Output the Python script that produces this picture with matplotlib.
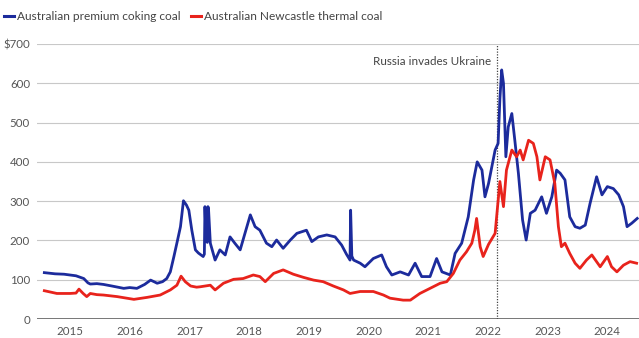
import matplotlib
matplotlib.use("Agg")
import matplotlib.pyplot as plt

# ---- data (decimal years, US$/tonne) ----
coking_years = [2014.57, 2014.75, 2014.9, 2015.0, 2015.1, 2015.23, 2015.3, 2015.34, 2015.45, 2015.56,
                2015.7, 2015.9, 2016.0, 2016.12, 2016.25, 2016.35, 2016.42, 2016.46, 2016.55, 2016.62,
                2016.68, 2016.74, 2016.8, 2016.85, 2016.9, 2016.95, 2016.99, 2017.04, 2017.1, 2017.15,
                2017.23, 2017.25, 2017.26, 2017.28, 2017.3, 2017.31, 2017.32, 2017.35, 2017.43, 2017.51,
                2017.6, 2017.68, 2017.76, 2017.85, 2017.93, 2018.02, 2018.06, 2018.1, 2018.18, 2018.29,
                2018.38, 2018.46, 2018.57, 2018.69, 2018.8, 2018.96, 2019.05, 2019.16, 2019.3, 2019.44,
                2019.55, 2019.63, 2019.69, 2019.70, 2019.72, 2019.75, 2019.86, 2019.94, 2020.08, 2020.22,
                2020.3, 2020.39, 2020.53, 2020.67, 2020.78, 2020.89, 2021.03, 2021.14, 2021.23, 2021.37,
                2021.45, 2021.56, 2021.67, 2021.76, 2021.82, 2021.9, 2021.95, 2022.01, 2022.12, 2022.17,
                2022.2, 2022.23, 2022.26, 2022.3, 2022.34, 2022.4, 2022.45, 2022.51, 2022.58, 2022.64,
                2022.71, 2022.79, 2022.9, 2022.98, 2023.07, 2023.15, 2023.21, 2023.29, 2023.37, 2023.46,
                2023.54, 2023.63, 2023.71, 2023.82, 2023.91, 2024.0, 2024.1, 2024.19, 2024.27, 2024.33,
                2024.41, 2024.5]
coking_values = [118, 115, 114, 112, 110, 103, 92, 89, 90, 88,
                 84, 78, 80, 78, 88, 99, 94, 91, 95, 103,
                 120, 159, 200, 235, 301, 290, 277, 226, 176, 168,
                 159, 165, 286, 200, 195, 286, 280, 193, 150, 176,
                 163, 209, 193, 176, 218, 265, 250, 235, 226, 193,
                 184, 201, 180, 201, 218, 226, 197, 209, 214, 209,
                 188, 165, 150, 277, 160, 150, 142, 133, 154, 163,
                 133, 112, 120, 112, 142, 108, 108, 154, 120, 112,
                 167, 193, 260, 354, 400, 379, 311, 345, 430, 447,
                 560, 634, 600, 413, 489, 523, 455, 371, 252, 201,
                 269, 277, 311, 269, 311, 379, 371, 354, 260, 235,
                 231, 239, 294, 362, 316, 337, 332, 316, 286, 235,
                 244, 256]

thermal_years = [2014.57, 2014.78, 2015.0, 2015.1, 2015.15, 2015.22, 2015.28, 2015.34, 2015.45, 2015.56,
                 2015.79, 2016.07, 2016.29, 2016.51, 2016.68, 2016.79, 2016.86, 2016.93, 2017.02, 2017.12,
                 2017.18, 2017.35, 2017.43, 2017.57, 2017.74, 2017.9, 2018.07, 2018.18, 2018.27, 2018.41,
                 2018.57, 2018.74, 2018.91, 2019.08, 2019.24, 2019.41, 2019.58, 2019.69, 2019.86, 2020.08,
                 2020.25, 2020.36, 2020.58, 2020.7, 2020.86, 2021.03, 2021.2, 2021.31, 2021.42, 2021.53,
                 2021.64, 2021.73, 2021.78, 2021.81, 2021.87, 2021.92, 2022.01, 2022.12, 2022.2, 2022.26,
                 2022.31, 2022.4, 2022.48, 2022.54, 2022.59, 2022.68, 2022.76, 2022.82, 2022.87, 2022.96,
                 2023.04, 2023.12, 2023.18, 2023.23, 2023.29, 2023.37, 2023.46, 2023.54, 2023.65, 2023.74,
                 2023.88, 2024.0, 2024.07, 2024.16, 2024.27, 2024.38, 2024.49]
thermal_values = [72, 65, 65, 66, 76, 65, 57, 65, 62, 61,
                  57, 50, 55, 61, 74, 86, 109, 95, 84, 81,
                  82, 86, 74, 91, 101, 103, 112, 108, 95, 116,
                  125, 114, 106, 99, 95, 84, 74, 65, 70, 70,
                  61, 53, 48, 48, 65, 78, 91, 95, 116, 150,
                  171, 193, 226, 256, 184, 159, 190, 218, 350, 286,
                  379, 430, 413, 430, 405, 455, 447, 413, 354, 413,
                  405, 345, 235, 184, 193, 167, 142, 129, 150, 163,
                  133, 159, 133, 120, 137, 146, 142]

year_ticks = [2015, 2016, 2017, 2018, 2019, 2020, 2021, 2022, 2023, 2024]
y_ticks = [0, 100, 200, 300, 400, 500, 600, 700]
y_labels = ["0", "100", "200", "300", "400", "500", "600", "$700"]
invasion_date = 2022.15
series_names = ["Australian premium coking coal", "Australian Newcastle thermal coal"]

BLUE = "#1c2b9c"
RED = "#e8231c"
GREY = "#555555"

plt.rcParams['font.family'] = ['Lato', 'DejaVu Sans']

fig = plt.figure(figsize=(6.39, 3.38), dpi=100)
ax = fig.add_axes([37/639, 19/338, 1 - 37/639, (319-44)/338])

ax.plot(coking_years, coking_values, color=BLUE, lw=2.0, label=series_names[0], zorder=3)
ax.plot(thermal_years, thermal_values, color=RED, lw=2.0, label=series_names[1], zorder=3)

ax.set_xlim(2014.447, 2024.53)
ax.set_ylim(0, 700)
ax.set_yticks(y_ticks)
ax.set_yticklabels(y_labels)
ax.set_xticks(year_ticks)
ax.set_xticklabels([str(y) for y in year_ticks])

for v in y_ticks[1:]:
    ax.axhline(v, color="#c8c8c8", lw=0.8, zorder=1)
ax.axhline(0, color="#777777", lw=1.4, zorder=2)

for s in ax.spines.values():
    s.set_visible(False)
ax.tick_params(axis='y', length=0, pad=5, labelsize=8.3, labelcolor=GREY)
ax.tick_params(axis='x', length=0, pad=5, labelsize=8.3, labelcolor=GREY)

ax.axvline(invasion_date, color="#444444", lw=0.9, ls=(0, (1, 1.2)), zorder=2)
ax.text(invasion_date - 0.1, 655, "Russia invades Ukraine", ha="right", va="center",
        fontsize=8.4, color="#444444")

leg = fig.legend(loc="center left", bbox_to_anchor=(0.0, 1 - 17/338), ncol=2, frameon=False,
                 fontsize=8.6, handlelength=0.9, handletextpad=0.25, columnspacing=0.8,
                 borderaxespad=0.0, borderpad=0.3)
for line in leg.get_lines():
    line.set_linewidth(2.2)
for t in leg.get_texts():
    t.set_color("#444444")

fig.savefig("out.png", dpi=100)
